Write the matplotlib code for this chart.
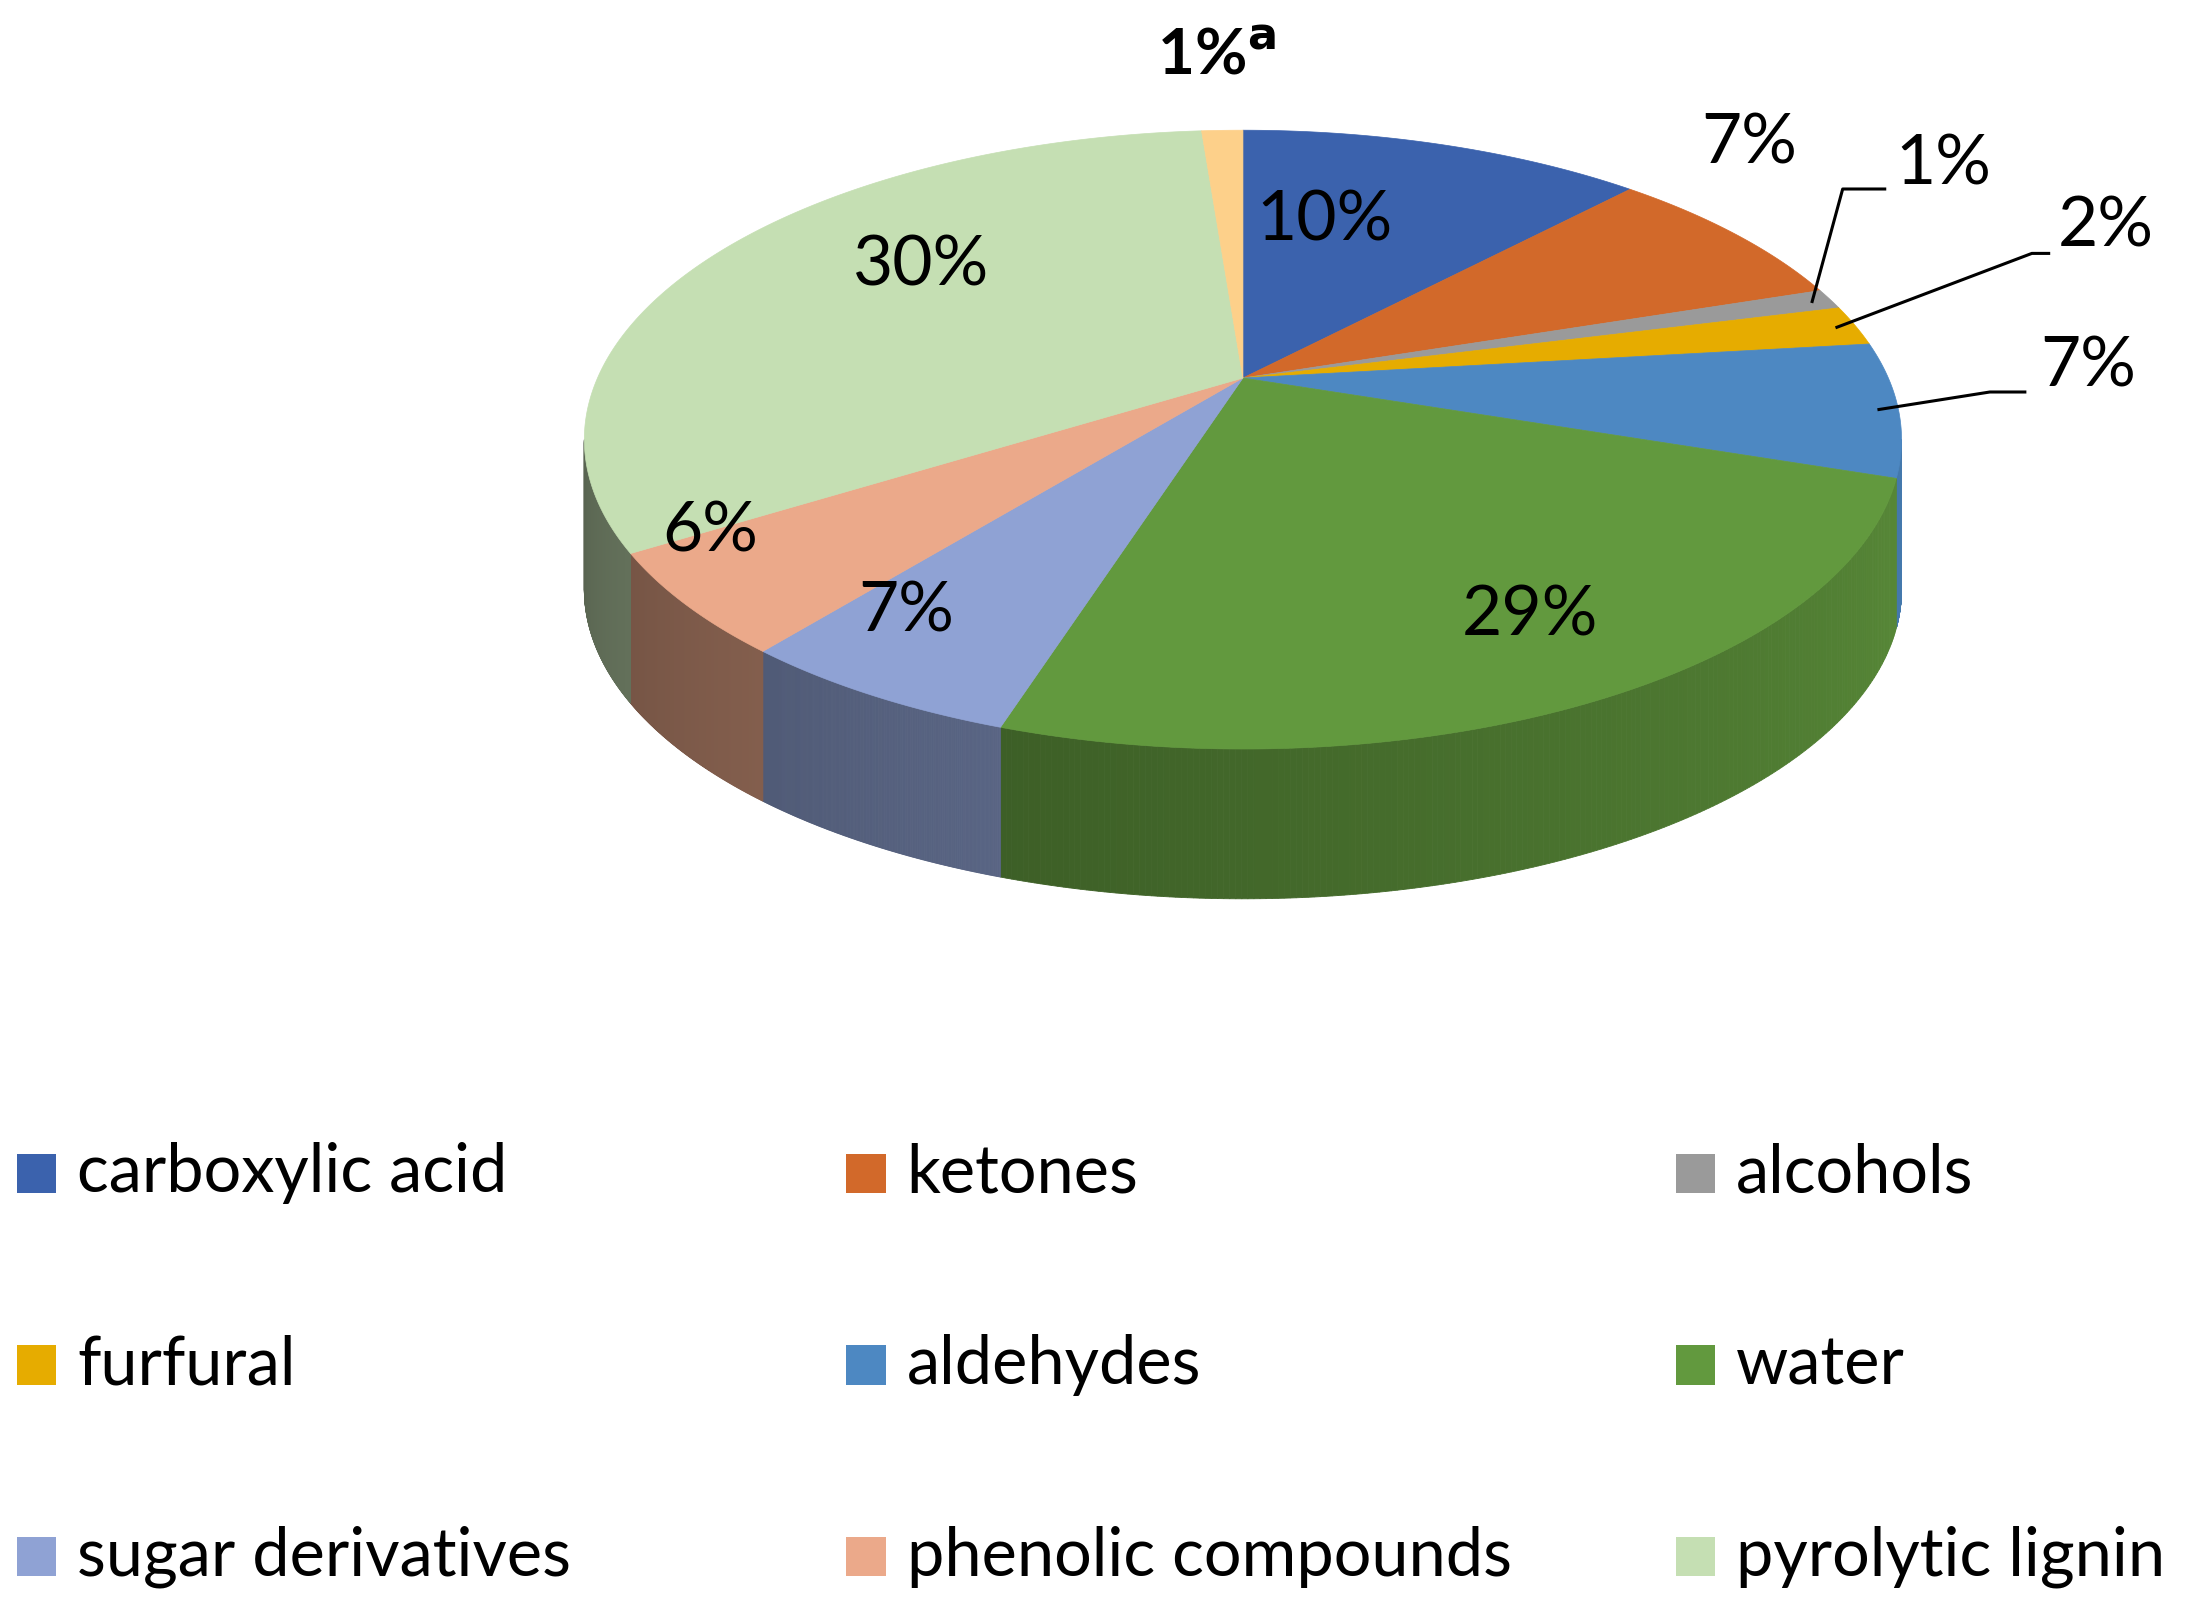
import numpy as np
import matplotlib
matplotlib.use("Agg")
import matplotlib.pyplot as plt
from matplotlib.patches import Polygon
import matplotlib.colors as mc

categories = ["carboxylic acid", "ketones", "alcohols", "furfural", "aldehydes",
              "water", "sugar derivatives", "phenolic compounds", "pyrolytic lignin", "other"]
values = [10, 7, 1, 2, 7, 29, 7, 6, 30, 1]
labels = ["10%", "7%", "1%", "2%", "7%", "29%", "7%", "6%", "30%", "1%"]
colors = ["#3b62ad", "#d2692a", "#9a9a9a", "#e6ac00", "#4d88c2", "#62993e",
          "#8fa2d4", "#eba98a", "#c5dfb3", "#fdd08a"]

# layout (reference pixel coordinates)
ax0, ay0 = 887, 270            # apex
cx, cy, rx, ry, depth = 887, 314, 470, 221, 107
label_pos = [(945, 158), (1248, 103), (1387, 118), (1503, 162), (1490, 262),
             (1092, 440), (647, 437), (507, 380), (657, 190), (868, 40)]
leader_ends = {2: [(1315, 135), (1345, 135)],
               3: [(1450, 181), (1462, 181)],
               4: [(1420, 280), (1445, 280)]}

W, H = 1560, 1150
fig = plt.figure(figsize=(21.86, 16.10), dpi=100)
ax = fig.add_axes([0, 0, 1, 1])
ax.set_xlim(0, W); ax.set_ylim(H, 0); ax.axis("off")

def pt(theta, dy=0, s=1.0):
    x = cx + rx * np.sin(theta)
    y = cy - ry * np.cos(theta) + dy
    return ax0 + s * (x - ax0), ay0 + s * (y - ay0)

tot = sum(values)
bounds = np.concatenate([[0], np.cumsum(values)]) / tot * 2 * np.pi

# side walls
for i in range(len(values)):
    a0, a1 = max(bounds[i], np.pi / 2), min(bounds[i + 1], 3 * np.pi / 2)
    if a1 <= a0:
        continue
    n = 200
    th = np.linspace(a0, a1, n)
    base = np.array(mc.to_rgb(colors[i]))
    for k in range(n - 1):
        t = th[k:k + 2]
        top = [pt(x) for x in t]
        bot = [pt(x, depth) for x in t[::-1]]
        u = (3 * np.pi / 2 - t[0]) / np.pi   # 1 at left, 0 at right
        f = 0.45 + 0.45 * u
        c = base * f
        ax.add_patch(Polygon(top + bot, closed=True, facecolor=c, edgecolor=c, lw=0.6))

# top faces
for i in range(len(values)):
    th = np.linspace(bounds[i], bounds[i + 1], 200)
    pts = [(ax0, ay0)] + [pt(x) for x in th]
    ax.add_patch(Polygon(pts, closed=True, facecolor=colors[i], edgecolor=colors[i], lw=0.5))

font = "Lato"
for i, (x, y) in enumerate(label_pos):
    if i == len(values) - 1:
        ax.text(x, y, labels[i] + "$^{\\mathbf{a}}$", ha="center", va="center",
                fontsize=46, fontweight="bold", family=font)
    else:
        ax.text(x, y, labels[i], ha="center", va="center", fontsize=50, family=font)
for k, seg in leader_ends.items():
    mid = 0.5 * (bounds[k] + bounds[k + 1])
    start = pt(mid, s=0.97)
    xs, ys = zip(*([start] + seg))
    ax.plot(xs, ys, color="black", lw=2.2)

# legend
cols_x = [12, 604, 1196]
rows_y = [838, 975, 1112]
for i in range(9):
    r, c = divmod(i, 3)
    x, y = cols_x[c], rows_y[r]
    ax.add_patch(plt.Rectangle((x, y - 14), 28, 28, facecolor=colors[i], edgecolor="none"))
    ax.text(x + 43, y, categories[i], ha="left", va="center", fontsize=48, family=font)

fig.savefig("out.png", dpi=100)
